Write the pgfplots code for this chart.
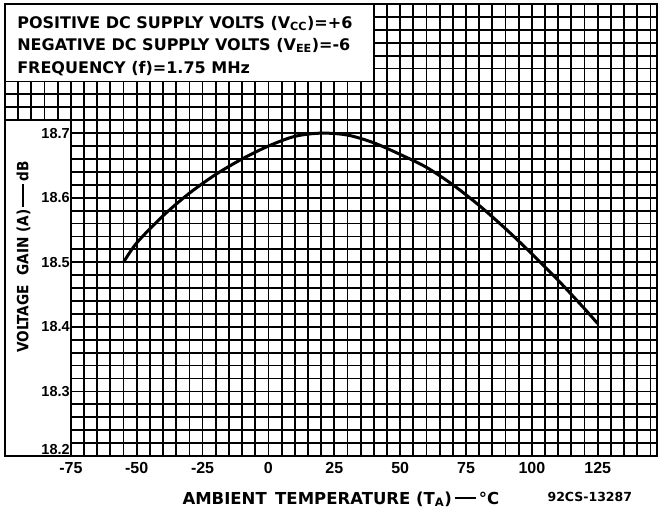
\documentclass[border=0pt]{standalone}
\usepackage{pgfplots}
\pgfplotsset{compat=1.18}
\usepackage{graphicx}
\usepackage{fontspec}
\setmainfont{DejaVu Sans}
\newfontfamily\numfont{Liberation Sans}
\begin{document}
\begin{tikzpicture}
\begin{axis}[
  scale only axis, width=652pt, height=452pt,
  xmin=-100, xmax=147.5, ymin=18.2, ymax=18.9,
  clip=false,
  xtick={-75,-50,-25,0,25,50,75,100,125},
  minor xtick={-100,-95,...,145},
  ytick={18.2,18.3,18.4,18.5,18.6,18.7,18.8,18.9},
  minor y tick num=4,
  yticklabels={},
  grid=both,
  major grid style={black, line width=1.8pt},
  minor grid style={black, line width=1.8pt},
  major tick length=0pt, minor tick length=0pt,
  axis line style={black, line width=1.8pt},
  /pgf/number format/assume math mode=true,
  xticklabel style={font=\numfont\bfseries\fontsize{16}{16}\selectfont, yshift=-3pt},
]
\addplot[black, line width=3pt, smooth] coordinates {
  (-55,18.500) (-50,18.530) (-40,18.572) (-30,18.607) (-20,18.636)
  (-10,18.660) (0,18.680) (10,18.695) (20,18.700) (30,18.697)
  (40,18.685) (50,18.667) (60,18.647) (70,18.620) (80,18.588)
  (90,18.552) (100,18.513) (110,18.472) (120,18.428) (125,18.405)
};
% white panels
\fill[white, draw=black, line width=1.8pt] (axis cs:-100,18.78) rectangle (axis cs:40,18.9);
\fill[white, draw=black, line width=1.8pt] (axis cs:-100,18.2) rectangle (axis cs:-75,18.72);
% legend text
\node[anchor=west, font=\bfseries\fontsize{16}{16}\selectfont, inner sep=0pt] at (axis cs:-95.4,18.870) {POSITIVE DC SUPPLY VOLTS (V\textsubscript{CC})=+6};
\node[anchor=west, font=\bfseries\fontsize{16}{16}\selectfont, inner sep=0pt] at (axis cs:-95.4,18.836) {NEGATIVE DC SUPPLY VOLTS (V\textsubscript{EE})=-6};
\node[anchor=west, font=\bfseries\fontsize{16}{16}\selectfont, inner sep=0pt] at (axis cs:-95.4,18.800) {FREQUENCY (f)=1.75 MHz};
% y tick labels
\node[anchor=east, font=\numfont\bfseries\fontsize{14.5}{14.5}\selectfont, inner sep=1pt] at (axis cs:-75,18.7) {18.7};
\node[anchor=east, font=\numfont\bfseries\fontsize{14.5}{14.5}\selectfont, inner sep=1pt] at (axis cs:-75,18.6) {18.6};
\node[anchor=east, font=\numfont\bfseries\fontsize{14.5}{14.5}\selectfont, inner sep=1pt] at (axis cs:-75,18.5) {18.5};
\node[anchor=east, font=\numfont\bfseries\fontsize{14.5}{14.5}\selectfont, inner sep=1pt] at (axis cs:-75,18.4) {18.4};
\node[anchor=east, font=\numfont\bfseries\fontsize{14.5}{14.5}\selectfont, inner sep=1pt] at (axis cs:-75,18.3) {18.3};
\node[anchor=south east, font=\numfont\bfseries\fontsize{14.5}{14.5}\selectfont, inner sep=1pt] at (axis cs:-75,18.2) {18.2};
% y label
\node[rotate=90, font=\bfseries\fontsize{15.5}{15.5}\selectfont, inner sep=0pt] at (axis cs:-93,18.508) {\scalebox{0.88}[1]{VOLTAGE\ \ GAIN (A)\,\rule[0.3em]{1.7em}{0.13em}\,dB}};
% x label
\node[font=\bfseries\fontsize{16.5}{16.5}\selectfont, inner sep=0pt] at (axis cs:27.5,18.133) {AMBIENT\, TEMPERATURE (T\textsubscript{A})\,\rule[0.3em]{1.3em}{0.13em}\,°C};
\node[font=\bfseries\fontsize{12.5}{12.5}\selectfont, inner sep=0pt] at (axis cs:122,18.137) {92CS-13287};
\coordinate (SW) at (axis cs:-100,18.2);
\coordinate (NE) at (axis cs:147.5,18.9);
\end{axis}
\pgfresetboundingbox
\path ([shift={(-5pt,-60pt)}]SW) rectangle ([shift={(4pt,4pt)}]NE);
\end{tikzpicture}
\end{document}
